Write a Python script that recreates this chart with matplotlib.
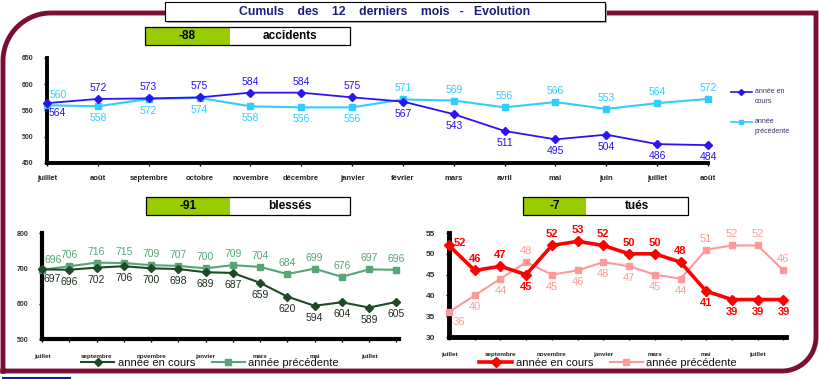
import numpy as np
import matplotlib
matplotlib.use("Agg")
import matplotlib.pyplot as plt
from matplotlib.patches import Rectangle

plt.rcParams['font.family'] = ['Liberation Sans', 'DejaVu Sans']

# données
mois_acc = ["juillet", "août", "septembre", "octobre", "novembre", "décembre", "janvier",
            "février", "mars", "avril", "mai", "juin", "juillet", "août"]
mois_court = ["juillet", "", "septembre", "", "novembre", "", "janvier", "",
              "mars", "", "mai", "", "juillet", ""]

acc_cours = [564, 572, 573, 575, 584, 584, 575, 567, 543, 511, 495, 504, 486, 484]
acc_prec = [560, 558, 572, 574, 558, 556, 556, 571, 569, 556, 566, 553, 564, 572]

bles_cours = [697, 696, 702, 706, 700, 698, 689, 687, 659, 620, 594, 604, 589, 605]
bles_prec = [696, 706, 716, 715, 709, 707, 700, 709, 704, 684, 699, 676, 697, 696]

tues_cours = [52, 46, 47, 45, 52, 53, 52, 50, 50, 48, 41, 39, 39, 39]
tues_prec = [36, 40, 44, 48, 45, 46, 48, 47, 45, 44, 51, 52, 52, 46]

ecarts = ["-88", "-91", "-7"]
titres = ["accidents", "blessés", "tués"]

# placement des étiquettes (a = dessus, b = dessous, r.. = à droite)
pos_acc_cours = ["rb", "a", "a", "a", "a", "a", "a", "b", "b", "b", "b", "b", "b", "b"]
pos_acc_prec = ["ra", "b", "b", "b", "b", "b", "b", "a", "a", "a", "a", "a", "a", "a"]
pos_bles_cours = ["rb"] + ["b"] * 13
pos_bles_prec = ["ra"] + ["a"] * 13
pos_tues_cours = ["r", "a", "a", "b", "a", "a", "a", "a", "a", "a", "b", "b", "b", "b"]
pos_tues_prec = ["rb", "b", "b", "a", "b", "b", "b", "b", "b", "b", "a", "a", "a", "a"]

OFFS = {"a": (0, 11), "b": (0, -12), "ra": (11, 10), "rb": (10, -10), "r": (11, 2)}

W, H = 820, 379
fig = plt.figure(figsize=(W / 100, H / 100), dpi=100)

MAROON = "#7a0f35"


def px_axes(x0, y0, x1, y1):
    ax = fig.add_axes([x0 / W, 1 - y1 / H, (x1 - x0) / W, (y1 - y0) / H])
    ax.set_facecolor("none")
    ax.set_zorder(2)
    return ax


# fond : cadre, titres
bg = fig.add_axes([0, 0, 1, 1])
bg.set_xlim(0, W)
bg.set_ylim(H, 0)
bg.axis("off")

r1 = 48
t = np.linspace(np.pi, 1.5 * np.pi, 30)
arc1 = np.c_[3 + r1 + r1 * np.cos(t), 13 + r1 + r1 * np.sin(t)]
r2 = 34
t = np.linspace(0, 0.5 * np.pi, 30)
arc2 = np.c_[816 - r2 + r2 * np.cos(t), 371 - r2 + r2 * np.sin(t)]
pts = np.vstack([[[3, 371]], arc1, [[816, 13]], arc2, [[3, 371]]])
bg.plot(pts[:, 0], pts[:, 1], color=MAROON, lw=3.5, solid_joinstyle="miter", zorder=1)
bg.plot([3, 70], [378, 378], color="#1a1aa0", lw=1.5)

# titre
bg.add_patch(Rectangle((167, 4), 440, 19, facecolor="#aaaaaa", edgecolor="none", zorder=3))
bg.add_patch(Rectangle((165, 2), 440, 19, facecolor="white", edgecolor="black", lw=0.8, zorder=4))
bg.text(385, 12, "Cumuls    des    12    derniers    mois   -   Evolution",
        ha="center", va="center", fontsize=8.8, fontweight="bold", color="#1c1c78", zorder=5)

boites = [(145, 27, 230, 350), (146, 197, 230, 350), (523, 197, 586, 688)]
for (x0, y0, xm, x1), e, lab in zip(boites, ecarts, titres):
    bg.add_patch(Rectangle((x0, y0), xm - x0, 18, facecolor="#99cc00", edgecolor="none", zorder=3))
    bg.add_patch(Rectangle((x0, y0), x1 - x0, 18, facecolor="none", edgecolor="black", lw=0.9, zorder=4))
    bg.text((x0 + xm) / 2, y0 + 9, e, ha="center", va="center", fontsize=8.5,
            fontweight="bold", zorder=5)
    bg.text((xm + x1) / 2, y0 + 9, lab, ha="center", va="center", fontsize=8.5,
            fontweight="bold", zorder=5)


def style_axes(ax, ylim, yticks, ytick_fs, lw_spine):
    for s in ["top", "right"]:
        ax.spines[s].set_visible(False)
    ax.spines["left"].set_linewidth(lw_spine)
    ax.spines["bottom"].set_linewidth(lw_spine)
    ax.set_ylim(*ylim)
    ax.set_yticks(yticks)
    ax.tick_params(axis="y", length=2, width=1, labelsize=ytick_fs, pad=8)
    ax.tick_params(axis="x", length=2, width=1)
    for lab in ax.get_yticklabels():
        lab.set_fontweight("bold")
        lab.set_color("#333333")


def etiquettes(ax, vals, pos, color, fs, weight="normal"):
    for i, (v, p) in enumerate(zip(vals, pos)):
        ax.annotate(str(v), (i, v), xytext=OFFS[p], textcoords="offset pixels",
                    ha="center", va="center", fontsize=fs, color=color,
                    fontweight=weight, annotation_clip=False)


x = np.arange(14)

# accidents
ax1 = px_axes(47, 58, 708, 163)
style_axes(ax1, (450, 650), [450, 500, 550, 600, 650], 5, 2.8)
ax1.plot(x, acc_prec, color="#33ccff", lw=1.5, marker="s", ms=5, clip_on=False, zorder=3)
ax1.plot(x, acc_cours, color="#2a14f0", lw=1.3, marker="D", ms=4.5, clip_on=False, zorder=4)
etiquettes(ax1, acc_prec, pos_acc_prec, "#33ccff", 7.5)
etiquettes(ax1, acc_cours, pos_acc_cours, "#2a14f0", 7.5)
ax1.set_xlim(0, 13)
ax1.set_xticks(x)
ax1.set_xticklabels(mois_acc, fontsize=5.5, fontweight="bold", color="#222222")
ax1.tick_params(axis="x", pad=7)

# légende accidents
bg.plot([731, 741.5, 752], [92, 92, 92], color="#2a14f0", lw=1.2, marker="D", ms=3, markevery=[1])
bg.plot([731, 741.5, 752], [122, 122, 122], color="#33ccff", lw=1.2, marker="s", ms=3.5, markevery=[1])
bg.text(755, 88, "année en\ncours", fontsize=5, va="top", color="#333366", linespacing=1.6)
bg.text(755, 118, "année\nprécédente", fontsize=5, va="top", color="#333366", linespacing=1.6)

# blessés
ax2 = px_axes(42, 233, 399, 339)
style_axes(ax2, (500, 800), [500, 600, 700, 800], 5, 3)
ax2.plot(x, bles_prec, color="#55a577", lw=1.5, marker="s", ms=5, clip_on=False, zorder=3,
         label="année précédente")
ax2.plot(x, bles_cours, color="#1e4a28", lw=1.5, marker="D", ms=4.5, clip_on=False, zorder=4,
         label="année en cours")
etiquettes(ax2, bles_prec, pos_bles_prec, "#55a577", 7.5)
etiquettes(ax2, bles_cours, pos_bles_cours, "#1e2e1e", 7.5)
ax2.set_xlim(0, 13.1)
ax2.set_xticks(x)
ax2.set_xticklabels(mois_court, fontsize=4.5, fontweight="bold", color="#222222")
ax2.tick_params(axis="x", pad=9)
h, l = ax2.get_legend_handles_labels()
ax2.legend(h[::-1], l[::-1], loc="center", bbox_to_anchor=(210 / W, 1 - 363 / H),
           bbox_transform=fig.transFigure, ncol=2, frameon=False, fontsize=8,
           handlelength=3, columnspacing=1.5, handletextpad=0.3, labelcolor="#111111")

# tués
ax3 = px_axes(449, 233, 786, 337)
style_axes(ax3, (30, 55), [30, 35, 40, 45, 50, 55], 6, 3.5)
ax3.plot(x, tues_prec, color="#ff9999", lw=1.5, marker="s", ms=5, clip_on=False, zorder=3,
         label="année précédente")
ax3.plot(x, tues_cours, color="#ff0000", lw=2.6, marker="D", ms=5, clip_on=False, zorder=4,
         label="année en cours")
etiquettes(ax3, tues_prec, pos_tues_prec, "#ff9999", 8)
etiquettes(ax3, tues_cours, pos_tues_cours, "#ff0000", 8, "bold")
ax3.set_xlim(0, 13.1)
ax3.set_xticks(x)
ax3.set_xticklabels(mois_court, fontsize=4.5, fontweight="bold", color="#222222")
ax3.tick_params(axis="x", pad=9)
h, l = ax3.get_legend_handles_labels()
ax3.legend(h[::-1], l[::-1], loc="center", bbox_to_anchor=(608 / W, 1 - 363 / H),
           bbox_transform=fig.transFigure, ncol=2, frameon=False, fontsize=8,
           handlelength=3, columnspacing=1.5, handletextpad=0.3, labelcolor="#111111")

fig.savefig("out.png", dpi=100)
